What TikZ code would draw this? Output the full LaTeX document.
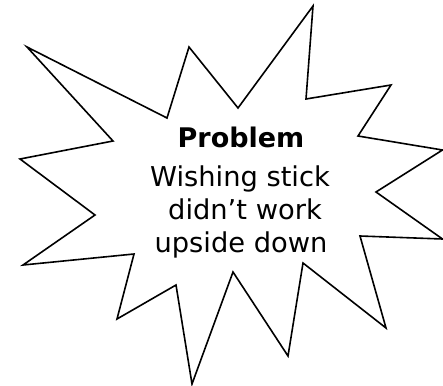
\documentclass[tikz,border=0pt]{standalone}
\usepackage{fontspec}
\setmainfont{DejaVu Sans}
\begin{document}
\begin{tikzpicture}[x=1pt,y=-1pt,
  starline/.style={draw=black,line width=1.6pt,line join=miter,fill=white},
  txt/.style={inner sep=0pt,anchor=base,font=\fontsize{27.3}{30}\selectfont}]
\useasboundingbox (0,0) rectangle (443,385);
\draw[starline] (27,47) -- (167,118) -- (189,47) -- (238,108) -- (313,6) -- (306,99)
  -- (391,85) -- (358,136) -- (442.5,150) -- (376,192) -- (442.5,239) -- (360,236)
  -- (386,328) -- (303,263) -- (288,356) -- (233,272) -- (192,384) -- (176,285)
  -- (117,319) -- (134,254) -- (23,265) -- (95,215) -- (20,159) -- (113,141) -- cycle;
\node[txt,font=\fontsize{27}{30}\selectfont\bfseries] (t1) at (241,147) {Problem};
\node[txt] (t2) at (240,186) {Wishing stick};
\node[txt] (t3) at (245,219) {didn’t work};
\node[txt] (t4) at (241,252) {upside down};
\end{tikzpicture}
\end{document}
